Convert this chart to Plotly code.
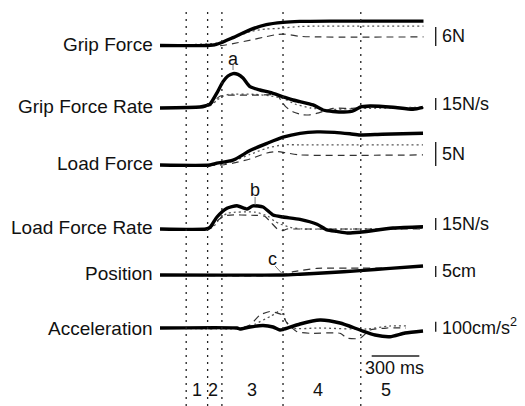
import plotly.graph_objects as go

# ---------------- data (time in ms, values in physical units) ----------------
# Grip Force (N)
gf_t_thick = [0, 300, 350, 390, 460, 570, 670, 775, 880, 1070, 1660]
gf_v_thick = [0, 0, 0.3, 0.95, 2.5, 5.0, 6.6, 7.3, 7.6, 7.7, 7.7]
gf_t_dash = [0, 390, 460, 570, 670, 740, 775, 820, 880, 1000, 1660]
gf_v_dash = [0, 0, 0.6, 1.7, 2.8, 3.5, 3.6, 3.4, 2.9, 2.7, 2.7]
gf_t_dot = [0, 390, 460, 570, 670, 756, 880, 1000, 1660]
gf_v_dot = [0, 0.9, 2.3, 4.4, 5.2, 5.4, 6.0, 6.1, 6.1]

# Grip Force Rate (N/s)
gfr_t_thick = [0, 252, 284, 315, 359, 397, 428, 460, 491, 523, 567, 630, 693, 775, 838,
               882, 964, 1027, 1090, 1197, 1229, 1260, 1323, 1468, 1594, 1657]
gfr_v_thick = [0, 1.2, 2.5, 5, 19, 33, 40, 43, 42, 37.5, 26.6, 22.5, 19.4, 14, 10,
               8, 3.8, -2.5, -4.4, -4.6, -2.5, 1.2, 2.5, 0.9, -1.6, 0.9]
gfr_t_dash = [0, 252, 315, 347, 380, 420, 600, 740, 760, 790, 840, 900, 945, 1000,
              1090, 1200, 1260, 1660]
gfr_v_dash = [0, 1.2, 3, 10, 15, 16, 16, 16, 10, 2, -5, -8.5, -8.5, -6,
              -0.5, -0.5, 0.5, 0.5]
gfr_t_dot = [0, 315, 360, 400, 430, 600, 700, 775, 850, 950, 1050, 1200, 1660]
gfr_v_dot = [0, 3, 10, 15, 17, 17, 15, 12, 5, 0, -2, -1, 1]

# Load Force (N)
lf_t_thick = [0, 315, 347, 460, 567, 674, 775, 882, 989, 1100, 1197, 1260, 1400, 1657]
lf_v_thick = [0, 0, 0.3, 1.0, 3.0, 4.5, 5.8, 6.6, 6.9, 6.8, 6.5, 6.25, 6.4, 6.6]
lf_t_dash = [0, 390, 460, 567, 674, 740, 800, 880, 1657]
lf_v_dash = [0, 0, 0.4, 1.25, 2.5, 2.8, 2.5, 2.1, 2.1]
lf_t_dot = [0, 390, 460, 567, 674, 775, 880, 1657]
lf_v_dot = [0, 0.2, 0.8, 2.2, 3.5, 4.2, 4.2, 4.2]

# Load Force Rate (N/s)
lfr_t_thick = [0, 290, 315, 359, 422, 485, 548, 586, 649, 712, 775, 882, 989, 1052,
               1115, 1180, 1260, 1468, 1657]
lfr_v_thick = [0, 0, 2, 15, 26, 29, 25, 29, 27.5, 17.5, 15, 12, 6, -1,
               -3, -5, -4, 1.2, 2.9]
lfr_t_dash = [0, 315, 370, 420, 600, 660, 700, 740, 775, 800, 850, 1660]
lfr_v_dash = [0, 1, 12, 17, 17, 16, 8, 0, -2, 0, 0, 0]
lfr_t_dot = [0, 330, 380, 430, 600, 680, 720, 760, 820, 900, 1660]
lfr_v_dot = [0, 2, 14, 20, 21, 16, 10, 6, 2, 0, 1]

# Position (cm)
pos_t_thick = [0, 775, 882, 1052, 1260, 1449, 1657]
pos_v_thick = [0, 0, 0.35, 1.0, 2.0, 3.0, 4.1]
pos_t_dash = [0, 775, 840, 989, 1260, 1400, 1500, 1657]
pos_v_dash = [0, 0, 1.5, 3.0, 3.1, 3.1, 3.4, 4.1]
pos_t_dot = [0, 775, 900, 1100, 1300, 1657]
pos_v_dot = [0, 0, 0.6, 1.4, 2.3, 4.0]

# Acceleration (cm/s^2)
acc_t_thick = [0, 485, 504, 567, 649, 712, 756, 775, 882, 1008, 1134, 1260, 1355,
               1449, 1544, 1657]
acc_v_thick = [0, 0, -10, 10, 25, 10, -20, -15, 40, 80, 50, -20, -70, -87, -50, -30]
acc_t_dash = [0, 504, 567, 630, 693, 737, 770, 800, 863, 945, 1134, 1178, 1260,
              1323, 1430, 1550]
acc_v_dash = [0, 0, 30, 130, 165, 150, 130, 50, -37, -53, -53, -100, -103, -20, 0, 0]
acc_t_dot = [0, 540, 600, 700, 770, 790, 830, 1000, 1300, 1450, 1560]
acc_v_dot = [0, 0, 40, 120, 180, 80, 0, 0, -10, 20, 20]

labels = ["Grip Force", "Grip Force Rate", "Load Force", "Load Force Rate",
          "Position", "Acceleration"]
scale_sizes = [6, 15, 5, 15, 5, 100]
scale_labels = ["6N", "15N/s", "5N", "15N/s", "5cm", "100cm/s<sup>2</sup>"]
phase_bounds = [165, 300, 390, 775, 1265]
phase_names = ["1", "2", "3", "4", "5"]
phase_label_t = [233, 334, 580, 995, 1424]
time_bar_ms = 300

series = [
    (gf_t_thick, gf_v_thick, gf_t_dash, gf_v_dash, gf_t_dot, gf_v_dot),
    (gfr_t_thick, gfr_v_thick, gfr_t_dash, gfr_v_dash, gfr_t_dot, gfr_v_dot),
    (lf_t_thick, lf_v_thick, lf_t_dash, lf_v_dash, lf_t_dot, lf_v_dot),
    (lfr_t_thick, lfr_v_thick, lfr_t_dash, lfr_v_dash, lfr_t_dot, lfr_v_dot),
    (pos_t_thick, pos_v_thick, pos_t_dash, pos_v_dash, pos_t_dot, pos_v_dot),
    (acc_t_thick, acc_v_thick, acc_t_dash, acc_v_dash, acc_t_dot, acc_v_dot),
]

# ---------------- layout geometry ----------------
W, H = 525, 406
X0_PX = 160.0          # pixel of t=0
MS_PER_PX = 6.3
baseline_px = [45.5, 108, 165, 229, 275, 328]
px_per_unit = [3.17, 0.8, 4.8, 0.8, 2.2, 0.1]
bar_bottom = [-0.15, -2.5, -0.2, -1.25, -0.9, -37]
label_shift = [1, 2, 2, 2, 2, 0]

FONT = "Liberation Sans, Arial, sans-serif"
TXT = dict(family=FONT, size=18, color="#111")
fig = go.Figure()

def yname(i):
    return "y" if i == 0 else f"y{i+1}"

bar_t = (435.7 - X0_PX) * MS_PER_PX
text_t = (439.5 - X0_PX) * MS_PER_PX

for i, (tt, vt, td, vd, tp, vp) in enumerate(series):
    ya = yname(i)
    fig.add_trace(go.Scatter(x=tp, y=vp, mode="lines", yaxis=ya, hoverinfo="skip",
                             line=dict(color="#555555", width=1.3, dash="2px,3px",
                                       shape="spline", smoothing=0.6)))
    fig.add_trace(go.Scatter(x=td, y=vd, mode="lines", yaxis=ya, hoverinfo="skip",
                             line=dict(color="#333333", width=1.2, dash="7px,5px",
                                       shape="spline", smoothing=0.6)))
    fig.add_trace(go.Scatter(x=tt, y=vt, mode="lines", yaxis=ya, hoverinfo="skip",
                             line=dict(color="black", width=3.4,
                                       shape="spline", smoothing=0.6)))
    # scale bar
    b0 = bar_bottom[i]
    fig.add_trace(go.Scatter(x=[bar_t, bar_t], y=[b0, b0 + scale_sizes[i]], mode="lines",
                             yaxis=ya, hoverinfo="skip",
                             line=dict(color="#222222", width=1.4)))
    fig.add_annotation(x=text_t, y=b0 + scale_sizes[i] / 2, xref="x", yref=ya,
                       text=scale_labels[i], showarrow=False, xanchor="left",
                       yanchor="middle", font=TXT)
    # left label
    fig.add_annotation(x=155 / W, y=0, xref="paper", yref=ya, text=labels[i],
                       showarrow=False, xanchor="right", yanchor="middle",
                       yshift=label_shift[i],
                       font=dict(family=FONT, size=19, color="#111"))

# y axes
for i in range(6):
    b = baseline_px[i]
    k = px_per_unit[i]
    rng = [-(H - b) / k, b / k]
    key = "yaxis" if i == 0 else f"yaxis{i+1}"
    ax = dict(range=rng, visible=False, domain=[0, 1], fixedrange=True)
    if i > 0:
        ax["overlaying"] = "y"
    fig.update_layout({key: ax})

# phase boundary dotted lines
for t in phase_bounds:
    fig.add_shape(type="line", xref="x", yref="paper", x0=t, x1=t, y0=0,
                  y1=1 - 12 / H, line=dict(color="#222222", width=1.3, dash="2px,5px"))

for name, t in zip(phase_names, phase_label_t):
    fig.add_annotation(x=t, y=1 - 390 / H, xref="x", yref="paper", text=name,
                       showarrow=False, xanchor="center", yanchor="middle", font=TXT)

# time scale bar
tb0 = (371.7 - X0_PX) * MS_PER_PX
fig.add_shape(type="line", xref="x", yref="paper", x0=tb0, x1=tb0 + time_bar_ms,
              y0=1 - 356 / H, y1=1 - 356 / H, line=dict(color="#222222", width=1.4))
fig.add_annotation(x=tb0 + time_bar_ms / 2 - 5, y=1 - 368 / H, xref="x", yref="paper",
                   text=f"{time_bar_ms} ms", showarrow=False,
                   xanchor="center", yanchor="middle", font=TXT)

# event markers a, b, c
marks = [("a", 460, 59), ("b", 599, 190), ("c", 706, 259)]
for txt, t, ypx in marks:
    fig.add_annotation(x=t, y=1 - ypx / H, xref="x", yref="paper", text=txt,
                       showarrow=False, xanchor="center", yanchor="middle", font=TXT)
fig.add_shape(type="line", xref="x", yref="paper", x0=460, x1=460, y0=1 - 70 / H,
              y1=1 - 64 / H, line=dict(color="#777", width=1))
fig.add_shape(type="line", xref="x", yref="paper", x0=599, x1=599, y0=1 - 205 / H,
              y1=1 - 197 / H, line=dict(color="#777", width=1))
fig.add_shape(type="line", xref="x", yref="paper", x0=725, x1=769, y0=1 - 266 / H,
              y1=1 - 273.5 / H, line=dict(color="#777", width=1))

fig.update_layout(
    width=W, height=H, autosize=False,
    margin=dict(l=0, r=0, t=0, b=0, pad=0),
    paper_bgcolor="white", plot_bgcolor="white",
    showlegend=False,
    xaxis=dict(range=[-X0_PX * MS_PER_PX, (W - X0_PX) * MS_PER_PX], visible=False,
               domain=[0, 1], fixedrange=True),
)

fig.write_html("out.html", config={"displayModeBar": False},
               post_script="document.body.style.margin='0';document.body.style.overflow='hidden';")
